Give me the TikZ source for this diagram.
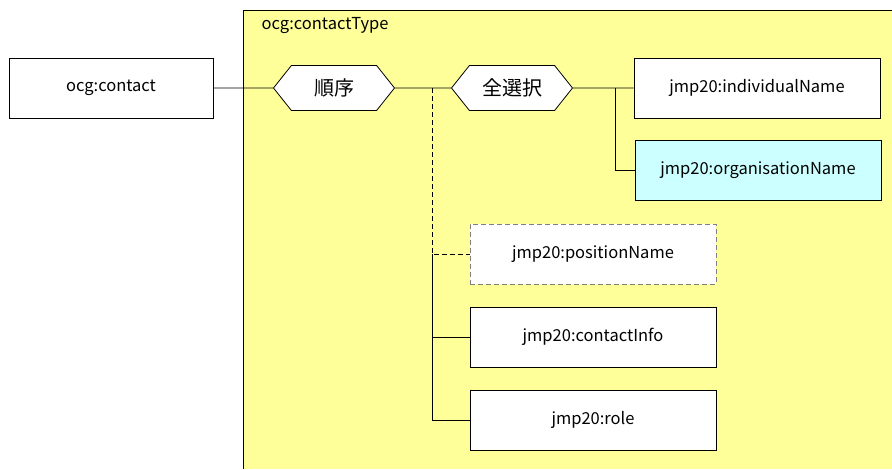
\documentclass[tikz,border=0pt]{standalone}
\usepackage{fontspec}
\setmainfont{Noto Sans CJK JP}
\usetikzlibrary{positioning}
\usetikzlibrary{shapes.symbols}
\definecolor{typeyellow}{HTML}{FFFF99}
\definecolor{optcyan}{HTML}{CCFFFF}

\begin{document}
\begin{tikzpicture}[x=1pt,y=-1pt,line width=0.8pt,
    elem node/.style={rectangle,draw,fill=white,minimum width=246pt,minimum height=60pt,inner sep=0pt,font=\fontsize{16.5}{19}\selectfont},
    opt node/.style={elem node,draw=gray,dash pattern=on 5pt off 3pt},
    group node/.style={signal,signal to=west and east,signal pointer angle=103,draw,fill=white,minimum width=121pt,minimum height=45pt,inner sep=0pt,font=\fontsize{20}{23}\selectfont}]
  \useasboundingbox (0,0) rectangle (892,469);
  % complex type area
  \fill[typeyellow] (243,10) rectangle (892,469);
  \draw (243,469) -- (243,10) -- (892,10);
  \node[anchor=west,font=\fontsize{16.5}{19}\selectfont] (typename) at (258,26) {ocg:contactType};
  % elements
  \node[elem node,minimum width=204pt] (contact) at (111,88) {ocg:contact};
  \node[group node] (seq) at (334,88) {順序};
  \node[group node] (choice) at (512,88) {全選択};
  \node[elem node] (indiv) at (757,88) {jmp20:individualName};
  \node[elem node,fill=optcyan] (org) at (758,170) {jmp20:organisationName};
  \node[opt node] (pos) at (593,254) {jmp20:positionName};
  \node[elem node] (info) at (593,337) {jmp20:contactInfo};
  \node[elem node] (role) at (593,420) {jmp20:role};
  % junctions
  \coordinate (jseq) at (432,88);
  \coordinate (jpos) at (432,254);
  \coordinate (jchoice) at (615,88);
  % connectors
  \path[-] (contact) edge (seq);
  \path[-] (seq) edge (choice);
  \path[-] (choice) edge (indiv);
  \draw (jchoice) |- (org);
  \draw[dash pattern=on 5pt off 3pt] (jseq) -- (jpos) -- (pos);
  \draw (jpos) |- (role);
  \draw (jpos |- info) -- (info);
\end{tikzpicture}
\end{document}
